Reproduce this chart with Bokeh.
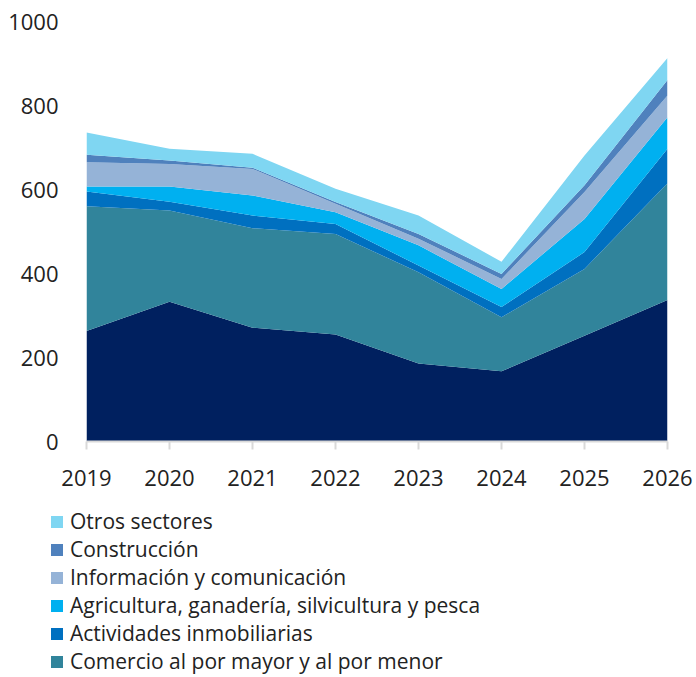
from bokeh.plotting import figure
from bokeh.models import (ColumnDataSource, Range1d, FixedTicker, Legend, LegendItem)
from bokeh.embed import file_html
from bokeh.resources import INLINE

years = [2019, 2020, 2021, 2022, 2023, 2024, 2025, 2026]

# bottom series (its legend entry is not visible in the picture)
base_series = [263, 333, 271, 255, 186, 167, 252, 337]
comercio = [297, 217, 237, 239, 217, 129, 159, 278]
inmobiliarias = [35, 21, 30, 24, 16, 24, 40, 82]
agricultura = [12, 36, 48, 28, 48, 43, 79, 75]
informacion = [58, 54, 63, 20, 16, 24, 64, 52]
construccion = [18, 8, 3, 4, 11, 12, 16, 37]
otros = [53, 28, 33, 32, 44, 29, 71, 52]

labels = ["", "Comercio al por mayor y al por menor", "Actividades inmobiliarias",
          "Agricultura, ganadería, silvicultura y pesca", "Información y comunicación",
          "Construcción", "Otros sectores"]
colors = ["#00205F", "#31849B", "#0070C0", "#00B0F0", "#95B3D7", "#4F81BD", "#7FD6F2"]

y_ticks = [0, 200, 400, 600, 800, 1000]

keys = ["s0", "s1", "s2", "s3", "s4", "s5", "s6"]
data = dict(year=years)
for k, s in zip(keys, [base_series, comercio, inmobiliarias, agricultura,
                       informacion, construccion, otros]):
    data[k] = s
source = ColumnDataSource(data)

FONT = "Open Sans"
TXT = "#222222"

# ---------- main chart ----------
p = figure(width=696, height=502, output_backend="svg", toolbar_location=None,
           x_range=Range1d(2019, 2026), y_range=Range1d(0, 1000),
           min_border_left=86, min_border_right=29, min_border_top=21,
           min_border_bottom=61)
p.outline_line_color = None
p.grid.visible = False
p.background_fill_color = "white"

p.varea_stack(stackers=keys, x="year", color=colors, source=source)

p.xaxis.ticker = FixedTicker(ticks=years)
p.yaxis.ticker = FixedTicker(ticks=y_ticks)

p.xaxis.axis_line_color = "#d9d9d9"
p.xaxis.axis_line_width = 2
p.xaxis.major_tick_line_color = "#d9d9d9"
p.xaxis.major_tick_line_width = 2
p.xaxis.major_tick_out = 8
p.xaxis.major_tick_in = 0
p.xaxis.minor_tick_line_color = None
p.xaxis.major_label_standoff = 20

p.yaxis.axis_line_color = None
p.yaxis.major_tick_line_color = None
p.yaxis.major_tick_out = 0
p.yaxis.major_tick_in = 0
p.yaxis.minor_tick_line_color = None
p.yaxis.minor_tick_out = 0
p.yaxis.major_label_standoff = 28

for ax in (p.xaxis, p.yaxis):
    ax.major_label_text_font = FONT
    ax.major_label_text_font_size = "22px"
    ax.major_label_text_color = TXT

# ---------- legend panel (separate root, same data, stacked areas out of view) ----------
lg = figure(width=696, height=175, output_backend="svg", toolbar_location=None,
            x_range=Range1d(0, 1), y_range=Range1d(0, 1),
            x_axis_type=None, y_axis_type=None,
            min_border_left=49, min_border_right=0, min_border_top=5,
            min_border_bottom=0)
lg.outline_line_color = None
lg.grid.visible = False

lrs = lg.varea_stack(stackers=keys, x="year", color=colors, source=source)
items = [LegendItem(label=labels[i], renderers=[lrs[i]]) for i in range(6, 0, -1)]
legend = Legend(items=items, location="top_left", orientation="vertical",
                label_text_font=FONT, label_text_font_size="21px",
                label_text_color=TXT, glyph_width=15, glyph_height=15,
                label_height=20, spacing=0, label_standoff=6, padding=0,
                margin=0, border_line_color=None, background_fill_alpha=0)
lg.add_layout(legend, "center")

open("out.html", "w").write(file_html([p, lg], INLINE))
